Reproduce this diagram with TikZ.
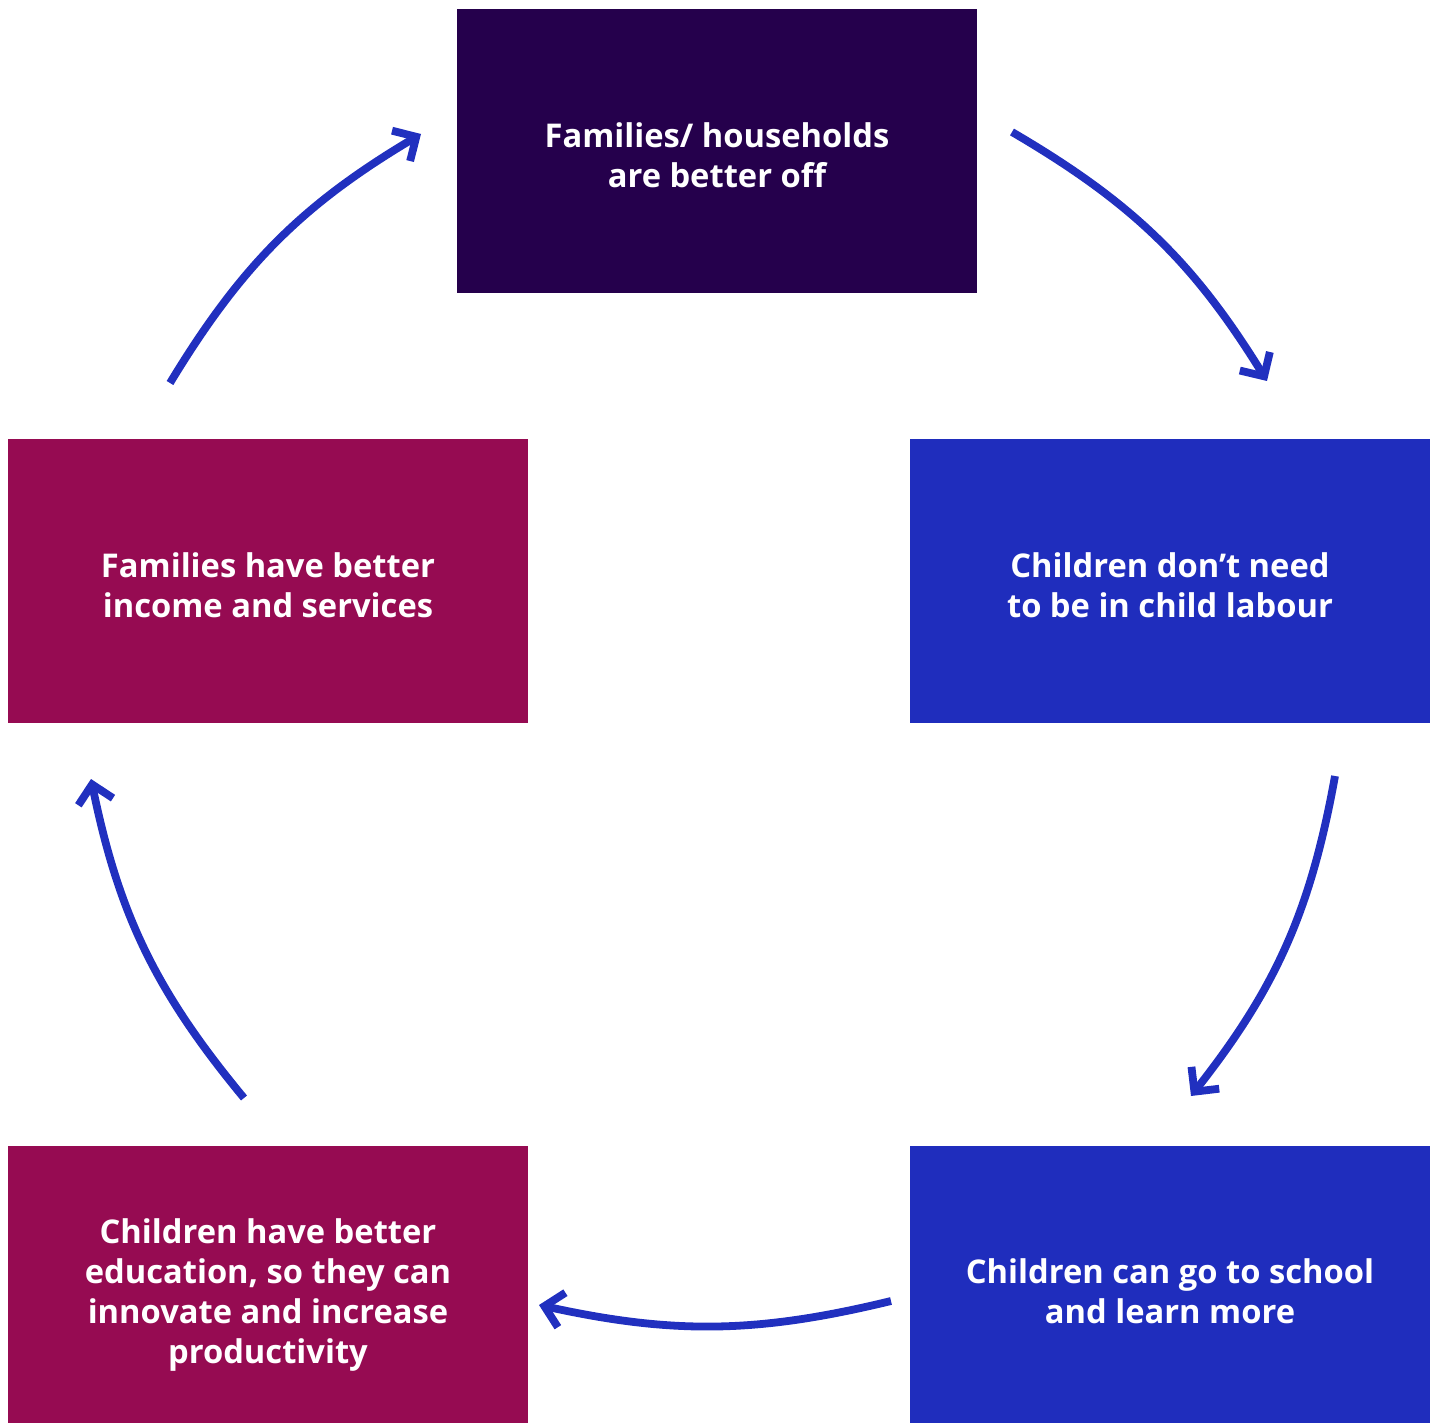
\documentclass[tikz,border=0pt]{standalone}
\usepackage{fontspec}
\setmainfont{Open Sans}
\usetikzlibrary{arrows.meta}
\definecolor{topc}{HTML}{25004C}
\definecolor{bluec}{HTML}{1F2DBD}
\definecolor{magc}{HTML}{960B52}
\definecolor{arrc}{HTML}{2130BF}
\begin{document}
\begin{tikzpicture}[x=0.5pt,y=-0.5pt,
  box/.style={rectangle, inner sep=0pt, minimum width=260pt, minimum height=142pt},
  txt/.style={inner sep=0pt, text=white, align=center, font=\fontsize{16.35}{20}\selectfont\bfseries},
  cyc/.style={draw=arrc, line width=3.9pt, line join=miter,
    -{Straight Barb[angle=90:12.5pt, line join=miter]}},
]
\useasboundingbox (0,0) rectangle (1437,1423);
\node[box, fill=topc] (top) at (717,151) {};
\node[box, fill=bluec] (right) at (1170,581) {};
\node[box, fill=magc] (left) at (268,581) {};
\node[box, fill=bluec, minimum height=138.5pt] (br) at (1170,1284.5) {};
\node[box, fill=magc, minimum height=138.5pt] (bl) at (268,1284.5) {};
\node[txt] (toptxt) at (717,155) {Families/ households\\are better off};
\node[txt] (righttxt) at (1170,585) {Children don’t need\\to be in child labour};
\node[txt] (lefttxt) at (268,585) {Families have better\\income and services};
\node[txt] (brtxt) at (1170,1291) {Children can go to school\\and learn more};
\node[txt] (bltxt) at (268,1295) {Children have better\\education, so they can\\innovate and increase\\productivity};
\coordinate (a1s) at (1012,132); \coordinate (a1e) at (1267,381);
\coordinate (a2s) at (1335,776); \coordinate (a2e) at (1191,1096);
\coordinate (a3s) at (891,1301); \coordinate (a3e) at (539,1305);
\coordinate (a4s) at (244,1098); \coordinate (a4e) at (91,779);
\coordinate (a5s) at (170,383); \coordinate (a5e) at (421,134);
\draw[cyc] (a1s) to[bend left=14] (a1e);
\draw[cyc] (a2s) to[bend left=14] (a2e);
\draw[cyc] (a3s) to[bend left=13] (a3e);
\draw[cyc] (a4s) to[bend left=14] (a4e);
\draw[cyc] (a5s) to[bend left=14] (a5e);
\end{tikzpicture}
\end{document}
